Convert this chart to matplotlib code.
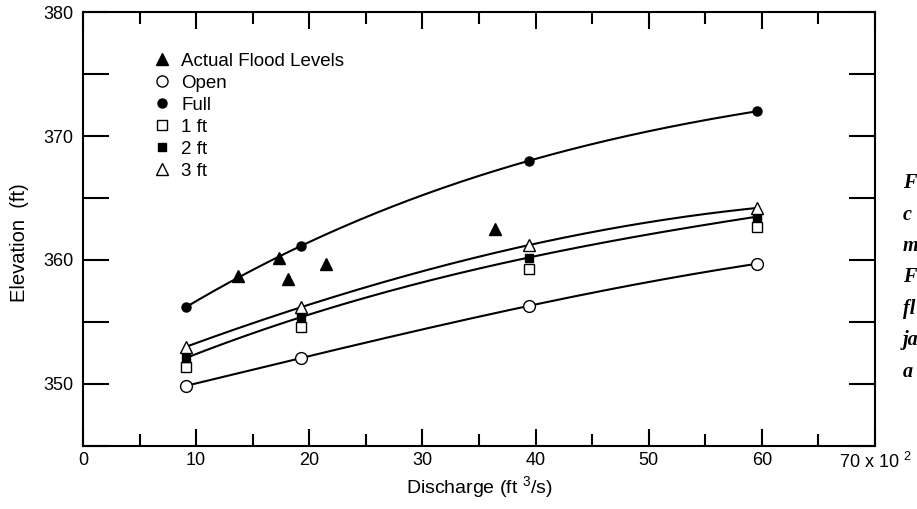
import numpy as np
import matplotlib.pyplot as plt
from matplotlib.lines import Line2D

plt.rcParams['font.family'] = ['Liberation Sans', 'DejaVu Sans']
plt.rcParams['mathtext.fontset'] = 'custom'
plt.rcParams['mathtext.rm'] = 'Liberation Sans'
plt.rcParams['mathtext.it'] = 'Liberation Sans'

# Discharge (x 100 ft3/s) for the model runs
q_model = [9.1, 19.3, 39.4, 59.6]
# Elevations (ft) for each run
elev_open = [349.85, 352.1, 356.3, 359.7]
elev_full = [356.2, 361.15, 368.0, 372.0]
elev_1ft = [351.4, 354.6, 359.3, 362.7]
elev_2ft = [352.1, 355.4, 360.2, 363.5]
elev_3ft = [353.0, 356.2, 361.2, 364.2]

# Observed flood levels
q_actual = [13.7, 17.3, 18.1, 21.5, 36.4]
elev_actual = [358.7, 360.2, 358.5, 359.7, 362.5]

x_ticks = [0, 10, 20, 30, 40, 50, 60, 70]
x_labels = ['0', '10', '20', '30', '40', '50', '60', '70 x 10 $^{2}$']
y_ticks = [350, 360, 370, 380]

caption_bits = ['F', 'c', 'm', 'F', 'fl', 'ja', 'a']


def smooth(x, y):
    # cubic through the points, just for drawing the curve
    c = np.polyfit(x, y, 3)
    xs = np.linspace(min(x), max(x), 200)
    return xs, np.polyval(c, xs)


fig = plt.figure(figsize=(9.17, 5.09), dpi=100)
ax = fig.add_axes([0.0905, 0.1238, 0.8637, 0.8526])

lw = 1.5
for ys in [elev_full, elev_open, elev_2ft, elev_3ft]:
    xs, yy = smooth(q_model, ys)
    ax.plot(xs, yy, color='black', lw=lw, zorder=2)

ax.plot(q_model, elev_full, 'o', ms=6.5, mfc='black', mec='black', zorder=3)
ax.plot(q_model, elev_open, 'o', ms=8.5, mfc='white', mec='black', mew=1.0, zorder=3)
ax.plot(q_model, elev_1ft, 's', ms=7, mfc='white', mec='black', mew=1.0, zorder=3)
ax.plot(q_model, elev_2ft, 's', ms=6, mfc='black', mec='black', zorder=4)
ax.plot(q_model, elev_3ft, '^', ms=9, mfc='white', mec='black', mew=1.0, zorder=5)
ax.plot(q_actual, elev_actual, '^', ms=9, mfc='black', mec='black', zorder=3)

handles = [
    Line2D([], [], ls='none', marker='^', ms=9, mfc='black', mec='black'),
    Line2D([], [], ls='none', marker='o', ms=8, mfc='white', mec='black'),
    Line2D([], [], ls='none', marker='o', ms=6.5, mfc='black', mec='black'),
    Line2D([], [], ls='none', marker='s', ms=6.5, mfc='white', mec='black'),
    Line2D([], [], ls='none', marker='s', ms=6, mfc='black', mec='black'),
    Line2D([], [], ls='none', marker='^', ms=9, mfc='white', mec='black'),
]
names = ['Actual Flood Levels', 'Open', 'Full', '1 ft', '2 ft', '3 ft']
ax.legend(handles, names, loc='upper left', bbox_to_anchor=(0.0879, 0.906),
          frameon=False, fontsize=13.5, handlelength=1.0, handletextpad=0.53,
          labelspacing=0.26, borderpad=0, borderaxespad=0)

ax.set_xlim(0, 70)
ax.set_ylim(345, 380)
ax.set_xticks(x_ticks)
ax.set_xticklabels(x_labels)
ax.set_xticks(np.arange(5, 70, 10), minor=True)
ax.set_yticks(np.arange(345, 381, 5), minor=True)
ax.set_yticks(y_ticks)
ax.set_yticklabels([str(v) for v in y_ticks])

ax.tick_params(axis='x', which='major', direction='in', length=12, width=1.5,
               top=True, labelsize=13, pad=4)
ax.tick_params(axis='x', which='minor', direction='in', length=8.5, width=1.5, top=True)
ax.tick_params(axis='y', which='both', direction='in', length=19, width=1.5,
               right=True, labelsize=13, pad=7)
for s in ax.spines.values():
    s.set_linewidth(1.5)

ax.set_xlabel('Discharge (ft $^{3}$/s)', fontsize=14, labelpad=2)
ax.set_ylabel('Elevation  (ft)', fontsize=14.5)
ax.yaxis.set_label_coords(-0.068, 0.468)

for i, t in enumerate(caption_bits):
    fig.text(903 / 917, 1 - (183 + 31.5 * i) / 509, t, family='Liberation Serif',
             style='italic', weight='bold', fontsize=14.5, va='center', ha='left')

fig.savefig('out.png', dpi=100)
